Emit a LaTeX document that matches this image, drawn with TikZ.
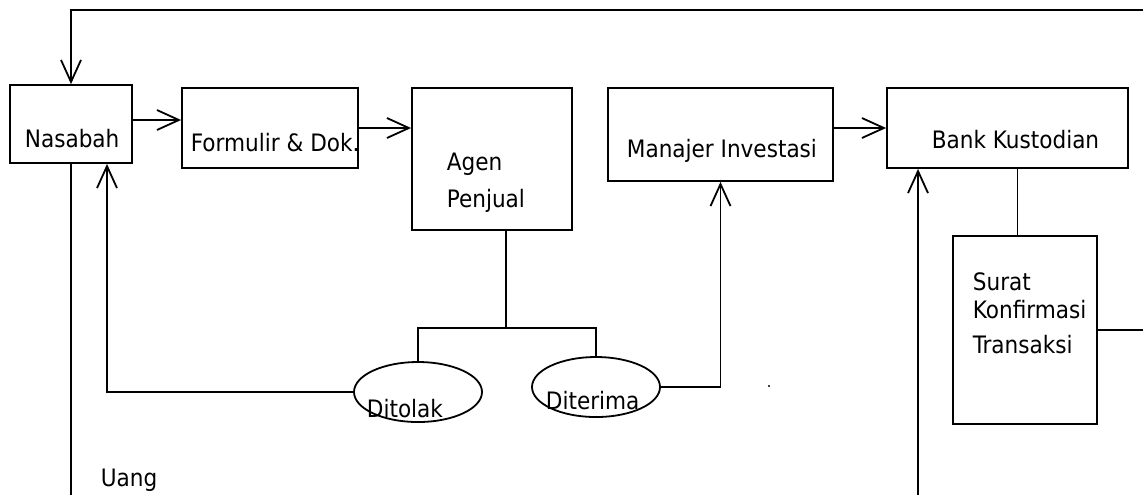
\documentclass[tikz,border=0pt]{standalone}
\usepackage{fontspec}
\setmainfont{DejaVu Sans Condensed}
\usetikzlibrary{arrows.meta, calc, positioning, shapes.geometric}

\begin{document}
\begin{tikzpicture}[x=0.5pt, y=-0.5pt, line width=0.9pt,
    font=\fontsize{12}{14}\selectfont,
    box/.style={draw, rectangle, inner sep=0pt},
    oval/.style={draw, ellipse, inner sep=0pt, minimum width=64pt, minimum height=30pt},
    txt/.style={anchor=base west, inner sep=0pt},
    arr/.style={-{Straight Barb[length=11pt,width=10pt]}}]
    \def\edgeX{1143}
    \def\edgeY{495}

    \useasboundingbox (0,0) rectangle (\edgeX,\edgeY);

    % Draw boxes
    \node[box, minimum width=61pt, minimum height=39pt] (nasabah) at (71,124) {};
    \node[box, minimum width=88pt, minimum height=40pt] (formulir) at (270,128) {};
    \node[box, minimum width=80pt, minimum height=71pt] (agen) at (492,159) {};
    \node[box, minimum width=112.5pt, minimum height=46.5pt] (manajer) at (720.5,134.5) {};
    \node[box, minimum width=120.5pt, minimum height=40pt] (bank) at (1007.5,128) {};
    \node[box, minimum width=72pt, minimum height=94pt] (surat) at (1025,330) {};

    % Draw decision ovals
    \node[oval] (ditolak) at (418,392) {};
    \node[oval] (diterima) at (596,387) {};

    % Label boxes
    \node[txt] (nasabahTxt) at (24,147) {Nasabah};
    \node[txt] (formulirTxt) at (190,151) {Formulir \& Dok.};
    \node[txt] (agenTxtA) at (446,170) {Agen};
    \node[txt] (agenTxtB) at (446,207) {Penjual};
    \node[txt] (manajerTxt) at (626,157) {Manajer Investasi};
    \node[txt] (bankTxt) at (931,148) {Bank Kustodian};
    \foreach \t/\y [count=\i] in {Surat/290, Konfirmasi/318, Transaksi/353} {
        \node[txt] (suratTxt\i) at (972,\y) {\t};
    }
    \node[txt] (ditolakTxt) at (366,417) {Ditolak};
    \node[txt] (diterimaTxt) at (545,409) {Diterima};
    \node[txt] (uangTxt) at (100,486) {Uang};

    % Free ends at the picture edge
    \coordinate (topRight) at (\edgeX,10);
    \coordinate (rightEdge) at (\edgeX,330);
    \coordinate (cashIn) at (918,\edgeY);

    % Draw top return line
    \draw[arr] (topRight) -| (nasabah.north);

    % Draw main flow
    \draw[arr] ($(nasabah.east)+(0,-4)$) coordinate (n1) -- (n1 -| formulir.west);
    \draw[arr] (formulir.east) -- (formulir.east -| agen.west);
    \draw[arr] (bank.west -| manajer.east) -- (bank.west);

    % Draw decision split
    \coordinate (split) at ($(agen.south)+(14,97)$);
    \draw ($(agen.south)+(14,0)$) -- (split);
    \draw (ditolak.north) |- (split) -| (diterima.north);
    \draw[arr] (diterima.east) -| (manajer.south);
    \draw[arr] (ditolak.west) -| ($(nasabah.south)+(36,0)$);

    % Draw custodian lines
    \draw ($(bank.south)+(10,0)$) coordinate (b1) -- (b1 |- surat.north);
    \draw (surat.east) -- (rightEdge);

    % Draw money lines
    \draw (nasabah.south) -- (nasabah.south |- cashIn);
    \draw[arr] (cashIn) -- (cashIn |- bank.south);

    \fill (769,386) circle (1.2);
\end{tikzpicture}
\end{document}
